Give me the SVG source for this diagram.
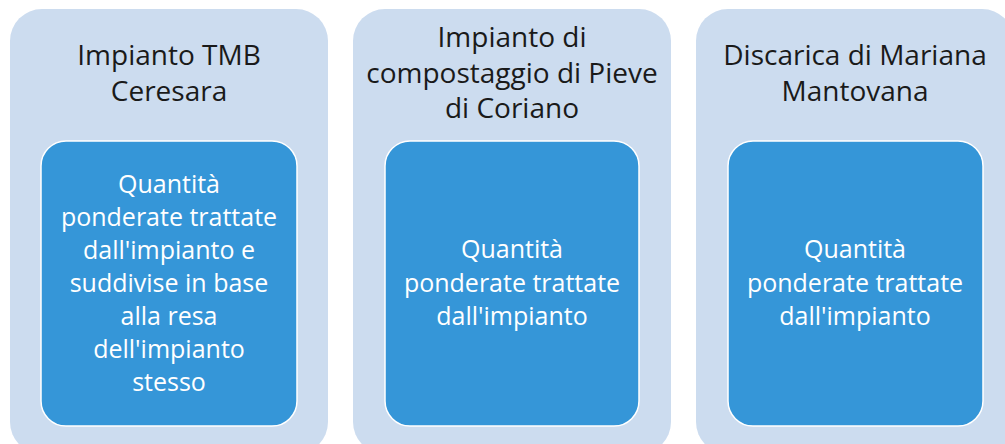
<svg xmlns="http://www.w3.org/2000/svg" width="1005" height="444" viewBox="0 0 1005 444">
<style>
.outer{fill:#CCDCEF;}
.inner{fill:#3596D8;stroke:#FFFFFF;stroke-width:1.5;}
.title{font-family:"Open Sans","Liberation Sans",sans-serif;font-size:28px;fill:#1A1A1A;text-anchor:middle;}
.body{font-family:"Open Sans","Liberation Sans",sans-serif;font-size:25px;fill:#FFFFFF;text-anchor:middle;}
</style>
<rect width="1005" height="444" fill="#FFFFFF"/>
<g id="node1">
<rect class="outer" x="10" y="9" width="318" height="445" rx="32"/>
<text class="title" x="169" y="65">Impianto TMB</text>
<text class="title" x="169" y="101">Ceresara</text>
<rect class="inner" x="41" y="141" width="256" height="285" rx="25"/>
<text class="body" x="169" y="193">Quantità</text>
<text class="body" x="169" y="226">ponderate trattate</text>
<text class="body" x="169" y="259">dall'impianto e</text>
<text class="body" x="169" y="292">suddivise in base</text>
<text class="body" x="169" y="325">alla resa</text>
<text class="body" x="169" y="358">dell'impianto</text>
<text class="body" x="169" y="391">stesso</text>
</g>
<g id="node2">
<rect class="outer" x="353" y="9" width="318" height="445" rx="32"/>
<text class="title" x="512" y="47">Impianto di</text>
<text class="title" x="512" y="83">compostaggio di Pieve</text>
<text class="title" x="512" y="118">di Coriano</text>
<rect class="inner" x="385" y="141" width="254" height="285" rx="25"/>
<text class="body" x="512" y="258">Quantità</text>
<text class="body" x="512" y="292">ponderate trattate</text>
<text class="body" x="512" y="325">dall'impianto</text>
</g>
<g id="node3">
<rect class="outer" x="696" y="9" width="318" height="445" rx="32"/>
<text class="title" x="855" y="65">Discarica di Mariana</text>
<text class="title" x="855" y="101">Mantovana</text>
<rect class="inner" x="728" y="141" width="255" height="285" rx="25"/>
<text class="body" x="855" y="258">Quantità</text>
<text class="body" x="855" y="292">ponderate trattate</text>
<text class="body" x="855" y="325">dall'impianto</text>
</g>
<g id="connectors"></g>
</svg>
